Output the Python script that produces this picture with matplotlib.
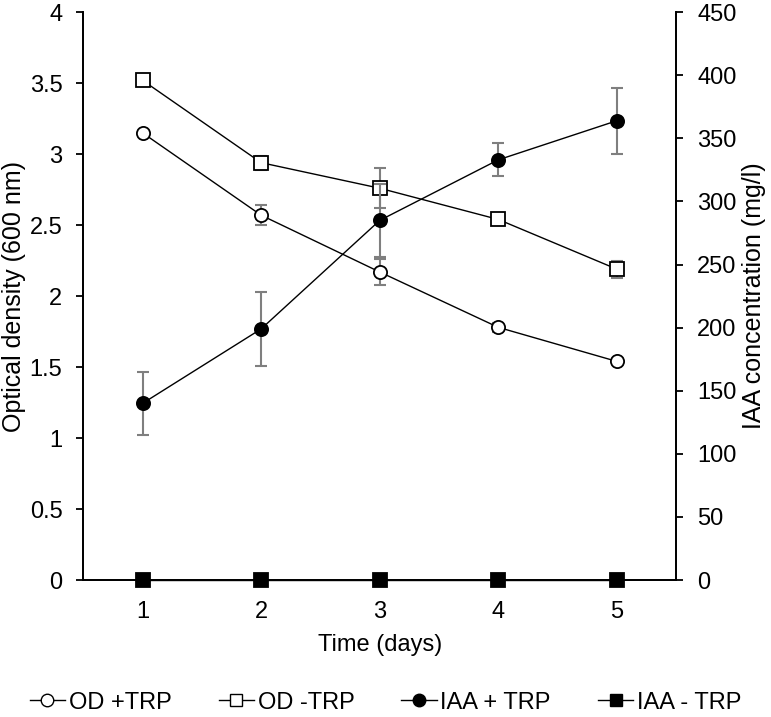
import numpy as np
import matplotlib.pyplot as plt
from matplotlib.ticker import FormatStrFormatter, MultipleLocator
from matplotlib.lines import Line2D

plt.rcParams['font.family'] = ['Liberation Sans Narrow', 'Liberation Sans', 'DejaVu Sans']

days = [1, 2, 3, 4, 5]
od_trp = [3.15, 2.57, 2.17, 1.78, 1.54]
od_trp_err = [0.0, 0.07, 0.09, 0.03, 0.0]
od_no_trp = [3.52, 2.94, 2.76, 2.54, 2.19]
od_no_trp_err = [0.0, 0.05, 0.14, 0.0, 0.06]
iaa_trp = [140, 199, 285, 333, 364]
iaa_trp_err = [25, 29, 29, 13, 26]
iaa_no_trp = [0, 0, 0, 0, 0]

labels = ['OD +TRP', 'OD -TRP', 'IAA + TRP', 'IAA - TRP']
err_color = '#7f7f7f'

fig = plt.figure(figsize=(7.71, 7.17), dpi=100)
ax = fig.add_axes([0.108, 0.191, 0.769, 0.792])
ax2 = ax.twinx()

def draw(a, y, err, marker, face):
    a.errorbar(days, y, yerr=err, fmt='none', ecolor=err_color, elinewidth=1.5,
               capsize=4.5, capthick=1.5, zorder=2)
    a.plot(days, y, color='black', lw=1, marker=marker, ms=9.5, mfc=face,
           mec='black', mew=1.3, zorder=3, clip_on=False)

draw(ax, od_trp, od_trp_err, 'o', 'white')
draw(ax, od_no_trp, od_no_trp_err, 's', 'white')
draw(ax2, iaa_trp, iaa_trp_err, 'o', 'black')
draw(ax2, iaa_no_trp, [0] * 5, 's', 'black')

ax.set_xlim(0.5, 5.5)
ax.set_ylim(0, 4)
ax2.set_ylim(0, 450)
ax.set_xticks(days)
ax.yaxis.set_major_locator(MultipleLocator(0.5))
ax.yaxis.set_major_formatter(FormatStrFormatter('%g'))
ax2.yaxis.set_major_locator(MultipleLocator(50))

for a in (ax, ax2):
    a.spines['top'].set_visible(False)
    for s in a.spines.values():
        s.set_linewidth(1.3)
    a.tick_params(labelsize=17, width=1.3, length=5, pad=10)
ax.tick_params(axis='x', length=0, pad=15)

ax.set_xlabel('Time (days)', fontsize=17, labelpad=8)
ax.set_ylabel('Optical density (600 nm)', fontsize=18, labelpad=2.5)
ax2.set_ylabel('IAA concentration (mg/l)', fontsize=18, labelpad=4)

handles = [
    Line2D([], [], color='black', lw=1, marker='o', ms=9, mfc='white', mec='black'),
    Line2D([], [], color='black', lw=1, marker='s', ms=9, mfc='white', mec='black'),
    Line2D([], [], color='black', lw=1, marker='o', ms=9, mfc='black', mec='black'),
    Line2D([], [], color='black', lw=1, marker='s', ms=9, mfc='black', mec='black'),
]
fig.legend(handles, labels, loc='center', bbox_to_anchor=(0.5, 0.02), ncol=4,
           frameon=False, fontsize=17, handlelength=1.5, handletextpad=0.15,
           columnspacing=2.0)

fig.savefig('out.png', dpi=100)
